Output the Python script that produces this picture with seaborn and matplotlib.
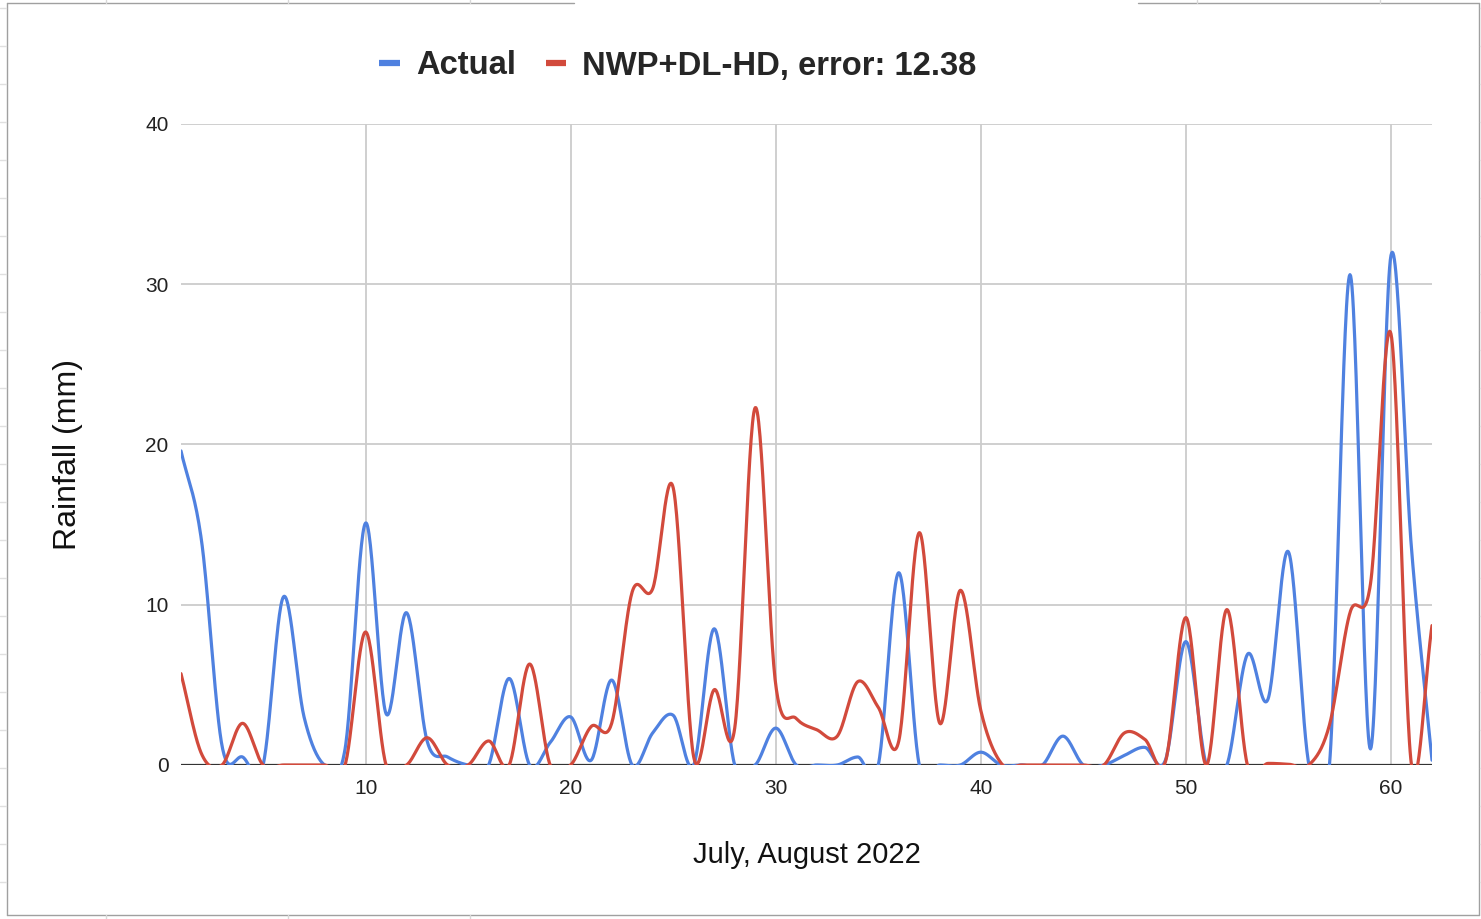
import numpy as np
import pandas as pd
import matplotlib
matplotlib.use("Agg")
import matplotlib.pyplot as plt
import seaborn as sns
from matplotlib.lines import Line2D

# ---------------- data ----------------
days = list(range(1, 63))
actual = [19.6, 14.0, 1.2, 0.5, 0.0, 10.5, 3.0, 0.0, 1.0, 15.1,
          3.2, 9.5, 1.5, 0.5, 0.0, 0.0, 5.4, 0.0, 1.4, 3.0,
          0.3, 5.3, 0.0, 2.0, 3.1, 0.0, 8.5, 0.0, 0.0, 2.3,
          0.0, 0.0, 0.0, 0.5, 0.0, 12.0, 0.0, 0.0, 0.0, 0.8,
          0.0, 0.0, 0.0, 1.8, 0.0, 0.0, 0.6, 1.1, 0.3, 7.7,
          0.0, 0.0, 6.9, 4.1, 13.3, 0.0, 0.0, 30.6, 1.0, 31.8,
          13.5, 0.3]
nwp_dl_hd = [5.7, 0.7, 0.0, 2.6, 0.0, 0.0, 0.0, 0.0, 0.0, 8.3,
             0.0, 0.0, 1.7, 0.0, 0.0, 1.5, 0.0, 6.3, 0.0, 0.0,
             2.4, 2.6, 10.8, 11.0, 17.3, 0.5, 4.7, 2.3, 22.3, 5.0,
             2.9, 2.2, 1.8, 5.2, 3.6, 1.5, 14.5, 2.6, 10.9, 3.4,
             0.1, 0.0, 0.0, 0.0, 0.0, 0.0, 2.0, 1.6, 0.2, 9.2,
             0.0, 9.7, 0.0, 0.1, 0.05, 0.0, 2.5, 9.5, 11.3, 26.9,
             0.0, 8.7]
series_names = ["Actual", "NWP+DL-HD, error: 12.38"]
x_ticks = [10, 20, 30, 40, 50, 60]
y_ticks = [0, 10, 20, 30, 40]
x_title = "July, August 2022"
y_title = "Rainfall (mm)"
colors = {"Actual": "#4f81e0", "NWP+DL-HD, error: 12.38": "#d24a3c"}


def smooth_curve(x, y, n=30):
    """Cubic Hermite (Catmull-Rom) drawing of the daily series, like a
    'smooth line' chart; passes exactly through every data point."""
    x = np.asarray(x, float)
    y = np.asarray(y, float)
    m = np.empty_like(y)
    m[1:-1] = (y[2:] - y[:-2]) / 2.0
    m[0] = y[1] - y[0]
    m[-1] = y[-1] - y[-2]
    xs, ys = [], []
    t = np.linspace(0, 1, n, endpoint=False)
    h00 = 2 * t**3 - 3 * t**2 + 1
    h10 = t**3 - 2 * t**2 + t
    h01 = -2 * t**3 + 3 * t**2
    h11 = t**3 - t**2
    for i in range(len(y) - 1):
        dx = x[i + 1] - x[i]
        xs.append(x[i] + t * dx)
        ys.append(h00 * y[i] + h10 * m[i] + h01 * y[i + 1] + h11 * m[i + 1])
    xs.append([x[-1]])
    ys.append([y[-1]])
    return np.concatenate(xs), np.concatenate(ys)


frames = []
for name, vals in zip(series_names, [actual, nwp_dl_hd]):
    sx, sy = smooth_curve(days, vals)
    frames.append(pd.DataFrame({"day": sx, "mm": sy, "series": name}))
df = pd.concat(frames, ignore_index=True)

# ---------------- figure ----------------
sns.set_theme(style="white")
plt.rcParams["font.family"] = ["Liberation Sans", "DejaVu Sans"]

W, H = 1481, 919
fig = plt.figure(figsize=(W / 100, H / 100), dpi=100)
fig.patch.set_facecolor("white")
L, R, T, B = 181, 1432, 124, 765
ax = fig.add_axes([L / W, 1 - B / H, (R - L) / W, (B - T) / H])

sns.lineplot(data=df, x="day", y="mm", hue="series", hue_order=series_names,
             palette=colors, linewidth=2.3, estimator=None, sort=False,
             legend=False, ax=ax)

ax.set_xlim(1, 62)
ax.set_ylim(0, 40)
ax.set_xticks(x_ticks)
ax.set_yticks(y_ticks)
ax.grid(True, color="#cccccc", linewidth=1.3)
ax.set_axisbelow(True)
for s in ax.spines.values():
    s.set_visible(False)
ax.axhline(0, color="#333333", linewidth=1.6, zorder=1.9)
ax.tick_params(axis="both", length=0, labelsize=15, colors="#222222")
ax.tick_params(axis="x", pad=10)
ax.tick_params(axis="y", pad=9)

ax.set_xlabel(x_title, fontsize=21, color="#111111")
ax.set_ylabel(y_title, fontsize=23, color="#111111")
ax.xaxis.set_label_coords((807 - L) / (R - L), (B - 855) / (B - T))
ax.xaxis.label.set_va("center")
ax.yaxis.set_label_coords((68 - L) / (R - L), (B - 455) / (B - T))
ax.yaxis.label.set_va("center")

handles = [Line2D([0], [0], color=colors[n], linewidth=4.5, solid_capstyle="butt")
           for n in series_names]
fig.legend(handles, series_names, loc="center",
           bbox_to_anchor=(678 / W, 1 - 66 / H), ncol=2, frameon=False,
           prop={"weight": "bold", "size": 23.6}, handlelength=0.62,
           handletextpad=0.5, columnspacing=0.9)

# ---------------- chart frame / sheet background ----------------
def fline(x0, y0, x1, y1, color="#a0a0a0", lw=1.0):
    fig.add_artist(Line2D([x0 / W, x1 / W], [1 - y0 / H, 1 - y1 / H],
                          color=color, linewidth=lw))

fline(6.5, 3, 6.5, 915)
fline(6.5, 915, 1479, 915)
fline(1479, 3, 1479, 915)
fline(6.5, 3, 574, 3)
fline(1138, 3, 1479, 3)
for yy in range(8, 915, 38):
    fline(0, yy, 6, yy, color="#e0e0e0")
    fline(1479.5, yy, 1481, yy, color="#e0e0e0")
for xx in [106, 288, 470]:
    fline(xx, 0, xx, 3, color="#d8d8d8")
    fline(xx, 915, xx, 919, color="#d8d8d8")
for xx in [1197, 1380]:
    fline(xx, 0, xx, 3, color="#d8d8d8")

fig.savefig("out.png", dpi=100, facecolor="white")
